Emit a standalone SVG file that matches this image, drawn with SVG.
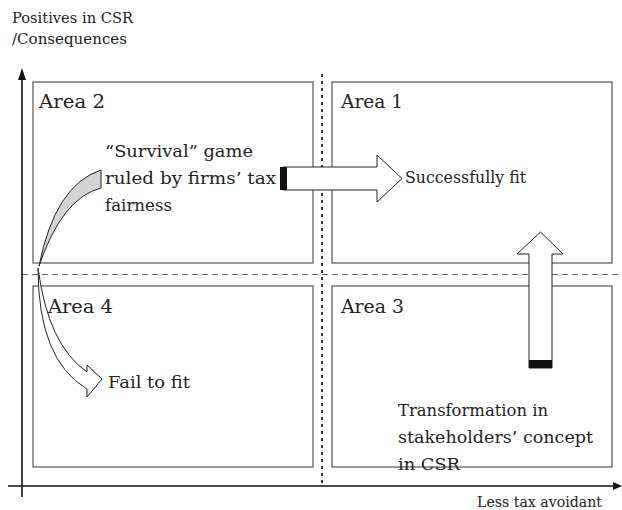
<svg xmlns="http://www.w3.org/2000/svg" width="622" height="510" viewBox="0 0 622 510">
<style>
.bg{fill:#fff}
.box{fill:none;stroke:#555;stroke-width:1.2}
.t{font-family:"DejaVu Serif","Liberation Serif",serif;fill:#222}
.area{font-size:19px}
.lbl{font-size:16.5px}
.ax{font-size:14.5px}
.axis{stroke:#111;stroke-width:1.6;fill:none}
.dash{stroke:#666;stroke-width:1.2;stroke-dasharray:6 4;fill:none}
.dot{stroke:#333;stroke-width:2;stroke-dasharray:3 4;fill:none}
.blk{fill:#fff;stroke:#222;stroke-width:1}
</style>
<rect class="bg" x="0" y="0" width="622" height="510"/>
<g id="connectors">
<line class="dash" x1="22" y1="274.5" x2="622" y2="274.5"/>
<line class="dot" x1="322" y1="74" x2="322" y2="486"/>
<line class="axis" x1="22" y1="497" x2="22" y2="78"/>
<polygon points="22,68 18,80 26,80" fill="#111"/>
<line class="axis" x1="8" y1="486" x2="614" y2="486"/>
<polygon points="622,486 613,482 613,490" fill="#111"/>
</g>
<g id="area2"><rect class="box" x="33" y="82" width="280" height="181"/><text class="t area" x="39" y="108" textLength="66" lengthAdjust="spacingAndGlyphs">Area 2</text></g>
<g id="area1"><rect class="box" x="332" y="82" width="280" height="181"/><text class="t area" x="341" y="108" textLength="62" lengthAdjust="spacingAndGlyphs">Area 1</text></g>
<g id="area4"><rect class="box" x="33" y="286" width="280" height="181"/><text class="t area" x="48" y="313" textLength="65" lengthAdjust="spacingAndGlyphs">Area 4</text></g>
<g id="area3"><rect class="box" x="332" y="286" width="280" height="181"/><text class="t area" x="341" y="313" textLength="63" lengthAdjust="spacingAndGlyphs">Area 3</text></g>
<g id="axis-labels">
<text class="t ax" x="12" y="23" textLength="121" lengthAdjust="spacingAndGlyphs">Positives in CSR</text>
<text class="t ax" x="12" y="44" textLength="115" lengthAdjust="spacingAndGlyphs">/Consequences</text>
<text class="t ax" x="477" y="507" textLength="125" lengthAdjust="spacingAndGlyphs">Less tax avoidant</text>
</g>
<g id="survival">
<path d="M39,266 Q55,185 101,170 L101,188 Q62,198 39,266 Z" fill="#d4d4d4" stroke="#222" stroke-width="1"/>
<text class="t lbl" x="105" y="157" textLength="148" lengthAdjust="spacingAndGlyphs">“Survival” game</text>
<text class="t lbl" x="105" y="184" textLength="171" lengthAdjust="spacingAndGlyphs">ruled by firms’ tax</text>
<text class="t lbl" x="105" y="211" textLength="67" lengthAdjust="spacingAndGlyphs">fairness</text>
</g>
<g id="fail">
<path d="M38,268 Q48,345 87,372 L87,365 L102,379 L87,397 L87,389 Q38,360 38,268 Z" class="blk"/>
<text class="t lbl" x="108" y="388" textLength="82" lengthAdjust="spacingAndGlyphs">Fail to fit</text>
</g>
<g id="success">
<path d="M283,167 L377,167 L377,155 L402,178.5 L377,202 L377,190 L283,190 Z" class="blk"/>
<rect x="280" y="167" width="7" height="23" fill="#111"/>
<text class="t lbl" x="405" y="183" textLength="121" lengthAdjust="spacingAndGlyphs">Successfully fit</text>
</g>
<g id="transformation">
<path d="M529,368 L529,254 L517,254 L540.5,232 L563,254 L552,254 L552,368 Z" class="blk"/>
<rect x="529" y="360" width="23" height="8" fill="#111"/>
<text class="t lbl" x="398" y="416" textLength="150" lengthAdjust="spacingAndGlyphs">Transformation in</text>
<text class="t lbl" x="398" y="443" textLength="195" lengthAdjust="spacingAndGlyphs">stakeholders’ concept</text>
<text class="t lbl" x="398" y="470" textLength="62" lengthAdjust="spacingAndGlyphs">in CSR</text>
</g>
</svg>
